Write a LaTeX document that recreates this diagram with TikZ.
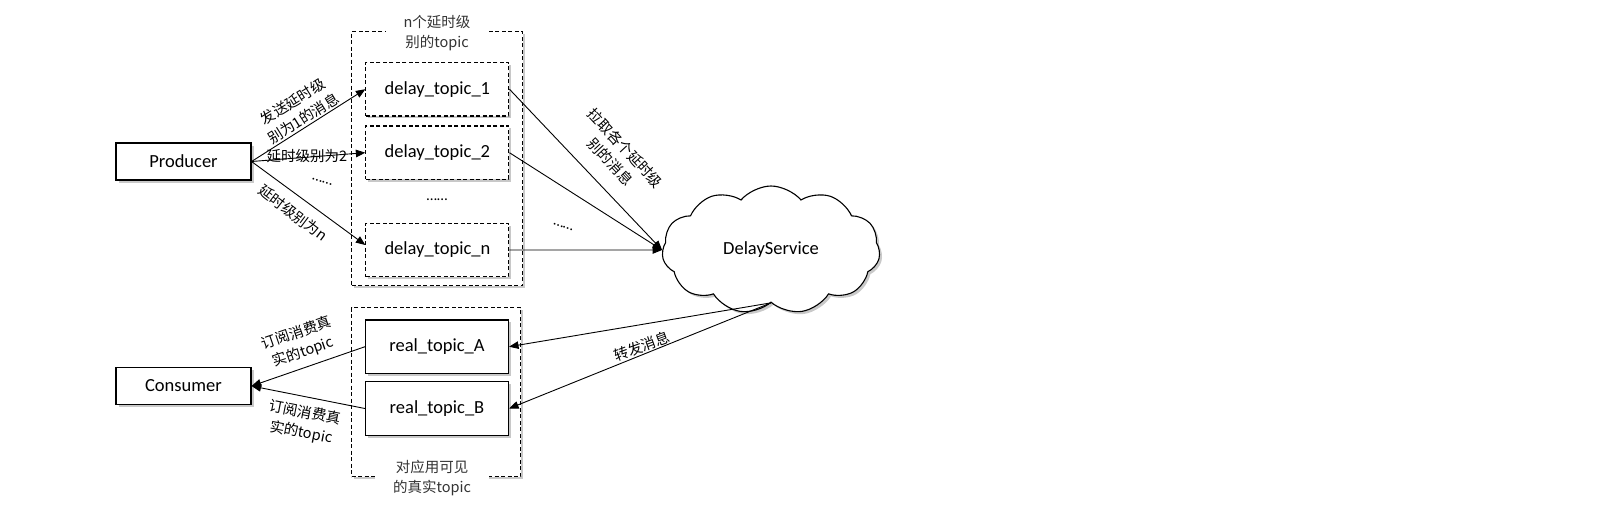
\documentclass[tikz,border=0pt]{standalone}
\usepackage{fontspec}
\setmainfont{Carlito}
\newfontfamily\cjk{Noto Sans CJK SC}
\usetikzlibrary{arrows.meta,shapes.symbols,shadows}
\begin{document}
\begin{tikzpicture}[x=1pt,y=-1pt,
  shadowed/.style={drop shadow={shadow xshift=2.5pt,shadow yshift=-2.5pt,opacity=0.3,fill=black!70}},
  nodefont/.style={font=\fontsize{18.5}{22}\selectfont},
  plainbox/.style={draw,line width=1.1pt,fill=white,shadowed,nodefont,minimum width=135pt,minimum height=37pt,inner sep=0pt},
  dbox/.style={draw,line width=1.1pt,dash pattern=on 4pt off 2.5pt,fill=white,shadowed,nodefont,minimum width=143pt,minimum height=53.5pt,inner sep=0pt},
  rbox/.style={draw,line width=1.1pt,fill=white,shadowed,nodefont,minimum width=143pt,minimum height=53.5pt,inner sep=0pt},
  group/.style={draw,line width=1.1pt,dash pattern=on 4pt off 2.5pt,fill=white,shadowed,inner sep=0pt},
  title/.style={fill=white,align=center,text=black!80,font=\cjk\fontsize{14.5}{20}\selectfont,inner xsep=18pt,inner ysep=1pt},
  lbl/.style={align=center,font=\cjk\fontsize{14.5}{20}\selectfont,inner sep=0pt},
  arr/.style={line width=0.9pt,-{Triangle[length=9.5pt,width=7.5pt]}}
]
\useasboundingbox (0,0) rectangle (1621,515);

% groups
\node[group,minimum width=171pt,minimum height=254pt] (g1) at (437.2,158.7) {};
\node[group,minimum width=169pt,minimum height=169pt] (g2) at (436.2,392) {};
\node[title] (t1) at (437,33) {n个延时级\\别的topic};
\node[title] (t2) at (432,478) {对应用可见\\的真实topic};

% boxes
\node[plainbox] (prod) at (183.5,161.5) {Producer};
\node[plainbox] (cons) at (183.5,386) {Consumer};
\node[dbox] (d1) at (437.4,89.2) {delay\_topic\_1};
\node[dbox] (d2) at (437.4,152.7) {delay\_topic\_2};
\node[lbl,font=\fontsize{15}{18}\selectfont] (dots) at (437,200) {\dots\dots};
\node[dbox] (dn) at (437.4,250) {delay\_topic\_n};
\node[rbox] (ra) at (437,346.7) {real\_topic\_A};
\node[rbox] (rb) at (437,408.5) {real\_topic\_B};

% cloud
\node[cloud,draw,line width=1.1pt,fill=white,shadowed,cloud puffs=11,cloud puff arc=100,aspect=1.75,
      minimum width=218pt,minimum height=128pt,inner sep=0pt,nodefont] (ds) at (771,250) {DelayService};

% producer arrows
\draw[arr] (prod.east) -- (d1.west);
\draw[arr] (prod.east) -- (d2.west);
\draw[arr] (prod.east) -- ([yshift=5pt]dn.west);
\node[lbl,rotate=32] (l1) at (298,110) {发送延时级\\别为1的消息};
\node[lbl] (l2) at (307,156) {延时级别为2};
\node[lbl,rotate=-18,font=\fontsize{15}{18}\selectfont] (dots1) at (322,182) {\dots\dots};
\node[lbl,rotate=-37] (l3) at (293,213) {延时级别为n};

% delay -> cloud
\draw[arr] (d1.east) -- (ds.west);
\draw[arr] (d2.east) -- (ds.west);
\draw[arr] (dn.east) -- (ds.west);
\node[lbl,rotate=-47] (l4) at (618,155) {拉取各个延时级\\别的消息};
\node[lbl,rotate=-20,font=\fontsize{15}{18}\selectfont] (dots2) at (563,227) {\dots\dots};

% cloud -> real
\draw[arr] (ds.south) -- (ra.east);
\draw[arr] (ds.south) -- (rb.east);
\node[lbl,rotate=20] (l5) at (642,346) {转发消息};

% real -> consumer
\draw[arr] (ra.west) -- (cons.east);
\draw[arr] (rb.west) -- (cons.east);
\node[lbl,rotate=19] (l6) at (300,343) {订阅消费真\\实的topic};
\node[lbl,rotate=-11] (l7) at (303,423) {订阅消费真\\实的topic};
\end{tikzpicture}
\end{document}
